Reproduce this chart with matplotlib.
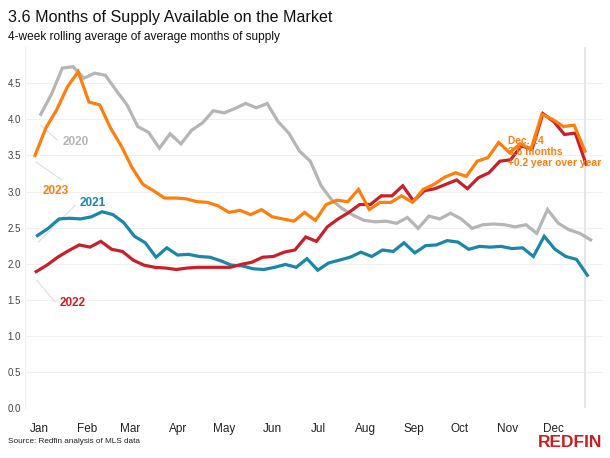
import numpy as np
import matplotlib.pyplot as plt
plt.rcParams['font.family'] = ['Liberation Sans', 'DejaVu Sans']

# weekly months-of-supply, 4-week rolling average (52 weeks each)
supply_2020 = [4.07, 4.35, 4.71, 4.73, 4.57, 4.64, 4.61, 4.40, 4.20, 3.90,
               3.82, 3.60, 3.80, 3.66, 3.85, 3.95, 4.12, 4.09, 4.15, 4.22,
               4.16, 4.22, 3.97, 3.81, 3.56, 3.42, 3.08, 2.88, 2.76, 2.67,
               2.60, 2.58, 2.59, 2.56, 2.64, 2.49, 2.66, 2.62, 2.70, 2.62,
               2.49, 2.54, 2.55, 2.54, 2.51, 2.54, 2.42, 2.75, 2.56, 2.47,
               2.42, 2.33]
supply_2021 = [2.39, 2.49, 2.62, 2.63, 2.62, 2.65, 2.72, 2.68, 2.57, 2.38,
               2.29, 2.09, 2.22, 2.12, 2.13, 2.10, 2.09, 2.04, 1.98, 1.97,
               1.93, 1.92, 1.95, 1.99, 1.95, 2.07, 1.91, 2.01, 2.05, 2.09,
               2.16, 2.10, 2.19, 2.17, 2.29, 2.15, 2.25, 2.26, 2.32, 2.30,
               2.20, 2.24, 2.23, 2.24, 2.21, 2.22, 2.10, 2.38, 2.20, 2.10,
               2.06, 1.84]
supply_2022 = [1.89, 1.98, 2.09, 2.18, 2.26, 2.23, 2.31, 2.20, 2.17, 2.05,
               1.98, 1.95, 1.94, 1.92, 1.94, 1.95, 1.95, 1.95, 1.95, 1.99,
               2.02, 2.09, 2.10, 2.16, 2.19, 2.37, 2.31, 2.51, 2.62, 2.71,
               2.82, 2.82, 2.94, 2.94, 3.08, 2.87, 3.01, 3.04, 3.10, 3.16,
               3.04, 3.19, 3.26, 3.42, 3.44, 3.63, 3.59, 4.08, 3.97, 3.79,
               3.81, 3.38]
supply_2023 = [3.50, 3.88, 4.13, 4.45, 4.66, 4.24, 4.20, 3.88, 3.63, 3.33,
               3.10, 3.01, 2.91, 2.91, 2.90, 2.86, 2.85, 2.80, 2.71, 2.74,
               2.68, 2.75, 2.65, 2.62, 2.59, 2.71, 2.60, 2.82, 2.88, 2.86,
               3.03, 2.75, 2.85, 2.85, 2.94, 2.85, 3.03, 3.10, 3.20, 3.26,
               3.21, 3.42, 3.47, 3.68, 3.54, 3.66, 3.59, 4.07, 4.00, 3.90,
               3.92, 3.56]

months = ['Jan', 'Feb', 'Mar', 'Apr', 'May', 'Jun',
          'Jul', 'Aug', 'Sep', 'Oct', 'Nov', 'Dec']
month_days = [31, 28, 31, 30, 31, 30, 31, 31, 30, 31, 30, 31]

series = [
    # label, values, colour, week offset, label pos, leader start, leader end
    ('2020', supply_2020, '#b5b5b5', 0.53, (2.6, 3.68), (0.53, 3.92), (2.07, 3.71)),
    ('2021', supply_2021, '#1b87a8', 0.22, (4.18, 2.84), (0.31, 2.30), (3.72, 2.81)),
    ('2022', supply_2022, '#c8202a', 0.10, (2.32, 1.45), (0.16, 1.77), (1.86, 1.47)),
    ('2023', supply_2023, '#ff7f0e', 0.00, (0.72, 3.01), (0.09, 3.41), (2.48, 3.16)),
]

fig = plt.figure(figsize=(6.1, 4.58), dpi=100)
ax = fig.add_axes([0.041, 0.109, 0.948, 0.788])

for name, vals, color, off, tpos, l0, l1 in series:
    x = np.arange(len(vals)) + off
    ax.plot(x, vals, color=color, linewidth=2.3, solid_joinstyle='miter', zorder=3)
    ax.plot([l0[0], l1[0]], [l0[1], l1[1]], color='#d9d9d9', linewidth=0.7, zorder=2)
    ax.text(tpos[0], tpos[1], name, color=color, fontsize=8.5, fontweight='bold',
            ha='left', va='center')

# current-week marker
ax.axvline(51, color='#e6e6e6', linewidth=1.4, zorder=1)
ax.text(43.85, 3.55, 'Dec. 24\n3.6 months\n+0.2 year over year', color='#ff7f0e',
        fontsize=7.4, fontweight='bold', ha='left', va='center', linespacing=1.15,
        zorder=4)

ax.set_xlim(-0.93, 52.7)
ax.set_ylim(0, 5.0)
ax.set_yticks(np.arange(0, 4.51, 0.5))
ax.set_yticklabels(['%.1f' % v for v in np.arange(0, 4.51, 0.5)])
starts = np.cumsum([0] + month_days[:-1]) / 7 + 0.4
ax.set_xticks(starts)
ax.set_xticklabels(months)
ax.tick_params(axis='y', length=0, labelsize=7, labelcolor='#444444', pad=3)
ax.tick_params(axis='x', length=0, labelsize=8.5, labelcolor='#222222', pad=11)
ax.grid(axis='y', color='#f0f0f0', linewidth=0.8)
ax.set_axisbelow(True)
for s in ['top', 'right', 'bottom']:
    ax.spines[s].set_visible(False)
ax.spines['left'].set_color('#f0f0f0')

fig.text(0.013, 0.962, '3.6 Months of Supply Available on the Market',
         fontsize=11.6, ha='left', va='center', color='#111111')
fig.text(0.013, 0.92, '4-week rolling average of average months of supply',
         fontsize=8.6, ha='left', va='center', color='#111111')
fig.text(0.013, 0.035, 'Source: Redfin analysis of MLS data',
         fontsize=5.9, ha='left', va='center', color='#222222')
fig.text(0.988, 0.034, 'REDFIN', fontsize=12.5, fontweight='bold',
         ha='right', va='center', color='#c82021')

fig.savefig('out.png', dpi=100)
